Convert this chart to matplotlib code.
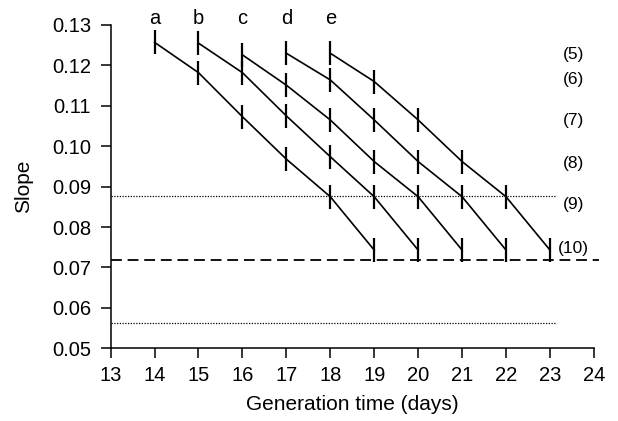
import matplotlib
matplotlib.use("Agg")
import matplotlib.pyplot as plt

plt.rcParams['font.family'] = ['Liberation Sans', 'DejaVu Sans']

# Data
line_labels = ['a', 'b', 'c', 'd', 'e']
start_days = [14, 15, 16, 17, 18]
slope_a = [0.1257, 0.1182, 0.1073, 0.0968, 0.0875, 0.0743]
slope_b = [0.1255, 0.1182, 0.1075, 0.0974, 0.0875, 0.0743]
slope_c = [0.1226, 0.1151, 0.1065, 0.0962, 0.0875, 0.0743]
slope_d = [0.1230, 0.1164, 0.1065, 0.0962, 0.0875, 0.0743]
slope_e = [0.1230, 0.1160, 0.1065, 0.0962, 0.0875, 0.0743]
all_slopes = [slope_a, slope_b, slope_c, slope_d, slope_e]

row_labels = ['(5)', '(6)', '(7)', '(8)', '(9)', '(10)']
row_label_y = [0.1226, 0.1164, 0.1063, 0.0956, 0.0855, 0.0747]
row_label_x = 23.53

dotted_levels = [0.0877, 0.0562]
dotted_xmax = 23.14
dashed_level = 0.0718
dashed_xmax = 24.12

x_ticks = list(range(13, 25))
y_ticks = [0.05, 0.06, 0.07, 0.08, 0.09, 0.10, 0.11, 0.12, 0.13]

fig = plt.figure(figsize=(6.18, 4.21), dpi=100)
ax = fig.add_axes([0.179, 0.1727, 0.782, 0.768])

for lab, d0, ys in zip(line_labels, start_days, all_slopes):
    xs = [d0 + i for i in range(len(ys))]
    ax.plot(xs, ys, color='black', lw=1.2, marker='|', markersize=17,
            markeredgewidth=1.6, clip_on=False)
    ax.text(d0, 0.1317, lab, ha='center', va='center', fontsize=14.5)

for lvl in dotted_levels:
    ax.plot([13, dotted_xmax], [lvl, lvl], color='black', lw=0.9,
            linestyle=(0, (1, 1.2)), clip_on=False)
ax.plot([13, dashed_xmax], [dashed_level, dashed_level], color='black', lw=1.3,
        linestyle=(0, (6, 3.2)), clip_on=False)

for lab, yv in zip(row_labels, row_label_y):
    ax.text(row_label_x, yv, lab, ha='center', va='center', fontsize=12.5)

ax.set_xlim(13, 24)
ax.set_ylim(0.05, 0.13)
ax.set_xticks(x_ticks)
ax.set_yticks(y_ticks)
ax.set_yticklabels([f"{v:.2f}" for v in y_ticks])
ax.tick_params(direction='out', length=7, width=1.1, labelsize=14.5)
ax.tick_params(axis='x', pad=6)
ax.tick_params(axis='y', pad=7)
for s in ['top', 'right']:
    ax.spines[s].set_visible(False)
for s in ['left', 'bottom']:
    ax.spines[s].set_linewidth(1.1)
ax.set_xlabel('Generation time (days)', fontsize=15, labelpad=7)
ax.set_ylabel('Slope', fontsize=15, labelpad=14)

fig.savefig('out.png', dpi=100)
